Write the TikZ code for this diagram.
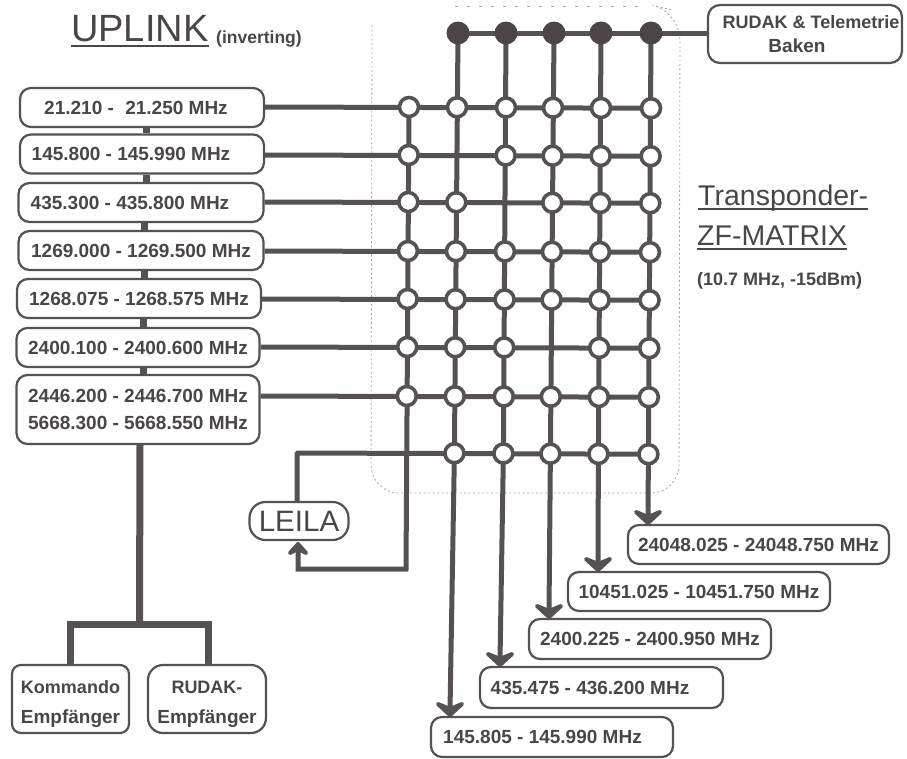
\documentclass[tikz,border=0pt]{standalone}
\usepackage{fontspec}
\setmainfont{Liberation Sans}
\usetikzlibrary{calc}
\definecolor{ink}{HTML}{565152}
\definecolor{txt}{HTML}{4A4647}
\definecolor{dot}{HTML}{4C4547}
\newcommand{\shl}[2]{#2\hspace*{#1pt}}
\newcommand{\shr}[2]{\hspace*{#1pt}#2}
\tikzset{
  x=1pt,y=-1pt,
  every node/.style={text=txt,inner sep=0pt},
  bus/.style={draw=ink,line width=5pt},
  feed/.style={draw=ink,line width=7pt},
  freqbox/.style={draw=ink,line width=2.2pt,rounded corners=11pt,fill=white,font=\bfseries\fontsize{19}{24}\selectfont,align=center},
  xnode/.style={circle,draw=ink,line width=3.6pt,fill=white,minimum size=19pt},
  tapnode/.style={circle,draw=none,fill=dot,minimum size=23pt},
  headshape/.style={draw=ink,fill=ink,line width=4pt,line join=round},
  titletext/.style={font=\fontsize{38}{38}\selectfont,anchor=base west},
  subtitle/.style={font=\fontsize{28.5}{30}\selectfont,anchor=base west},
  smallbold/.style={font=\bfseries\fontsize{18}{20}\selectfont,anchor=base west},
  rule line/.style={draw=txt,line width=2pt},
  frame line/.style={draw=gray!70,line width=.8pt,dash pattern=on 2pt off 2.5pt},
}
\newcommand{\headdown}[3]{% tip coordinate, half width, height
  \draw[headshape] ($(#1)+(0,-2)$) -- ($(#1)+(-#2,-2-#3)$) -- ($(#1)+(0,-2-0.55*#3)$) -- ($(#1)+(#2,-2-#3)$) -- cycle;}
\newcommand{\headup}[3]{%
  \draw[headshape] ($(#1)+(0,2)$) -- ($(#1)+(-#2,2+#3)$) -- ($(#1)+(0,2+0.55*#3)$) -- ($(#1)+(#2,2+#3)$) -- cycle;}
\begin{document}
\begin{tikzpicture}
\useasboundingbox (0,0) rectangle (907,758);
% frame of the matrix
\draw[frame line,rounded corners=28pt] (372,25) -- (371,493) -- (679,493) -- (680,12) -- (672,10);
\draw[frame line,dash pattern=on 3pt off 9pt] (455,6) -- (645,6);
% grid coordinates
\foreach \c/\xx in {1/409,2/457,3/506,4/553,5/601,6/651}{
  \foreach \r/\yy in {1/107,2/155,3/202,4/251,5/299,6/347,7/396,8/453}{
    \pgfmathsetmacro{\px}{\xx-(\yy-107)*0.0075}
    \pgfmathsetmacro{\py}{\yy+(\xx-409)*0.005}
    \coordinate (p\c\r) at (\px,\py);
  }
}
\coordinate (t2) at (458,33);
\coordinate (t3) at (506,33);
\coordinate (t4) at (554,33);
\coordinate (t5) at (601,33);
\coordinate (t6) at (651,33);
% boxes
\node[freqbox,minimum width=244pt,minimum height=39pt] (b1) at (142,107.5) {\shl{12}{21.210 -\hspace{.6em}21.250 MHz}};
\node[freqbox,minimum width=244pt,minimum height=39pt] (b2) at (142,154) {\shl{22}{145.800 - 145.990 MHz}};
\node[freqbox,minimum width=245pt,minimum height=39pt] (b3) at (141,202.5) {\shl{22}{435.300 - 435.800 MHz}};
\node[freqbox,minimum width=245pt,minimum height=39pt] (b4) at (141,250.5) {\shl{0}{1269.000 - 1269.500 MHz}};
\node[freqbox,minimum width=244pt,minimum height=39pt] (b5) at (139,298.5) {\shl{0}{1268.075 - 1268.575 MHz}};
\node[freqbox,minimum width=243pt,minimum height=39pt] (b6) at (138,347.5) {\shl{0}{2400.100 - 2400.600 MHz}};
\node[freqbox,minimum width=243pt,minimum height=69pt] (b7) at (138,409.5) {2446.200 - 2446.700 MHz\\[3pt]5668.300 - 5668.550 MHz};
\node[freqbox,rounded corners=9pt,minimum width=117pt,minimum height=68pt] (kom) at (70.5,699) {\fontsize{18}{22}\selectfont \rule{0pt}{24pt}Kommando\\[6pt]Empfänger};
\node[freqbox,rounded corners=15pt,minimum width=118pt,minimum height=68pt] (rud) at (207,699) {\fontsize{18}{22}\selectfont \rule{0pt}{24pt}RUDAK-\\[6pt]Empfänger};
\node[freqbox,draw=ink,rounded corners=16pt,minimum width=99pt,minimum height=38pt,font=\fontsize{29.5}{30}\selectfont] (leila) at (299,521) {LEILA};
\node[freqbox,rounded corners=12pt,minimum width=194pt,minimum height=58pt] (rtb) at (805,34) {\fontsize{18}{19.5}\selectfont \shr{12}{RUDAK \& Telemetrie}\\\shl{16}{Baken}};
\node[freqbox,minimum width=261pt,minimum height=39pt] (o6) at (758.5,544.5) {24048.025 - 24048.750 MHz};
\node[freqbox,minimum width=262pt,minimum height=39pt] (o5) at (699,591.5) {\shl{0}{10451.025 - 10451.750 MHz}};
\node[freqbox,minimum width=242pt,minimum height=40pt] (o4) at (650,639) {\shl{0}{2400.225 - 2400.950 MHz}};
\node[freqbox,minimum width=243pt,minimum height=41pt] (o3) at (601.5,687.5) {\shl{23}{435.475 - 436.200 MHz}};
\node[freqbox,minimum width=242pt,minimum height=40pt] (o2) at (552,737) {\shl{19}{145.805 - 145.990 MHz}};
% links between the input boxes
\foreach \a/\b/\s in {b1/b2/4,b2/b3/4,b3/b4/3,b4/b5/3,b5/b6/4,b6/b7/5}{
  \draw[feed] ([xshift=\s pt]\a.south) -- ([xshift=\s pt]\a.south |- \b.north);
}
% rows
\foreach \r/\b in {1/b1,2/b2,3/b3,4/b4,5/b5,6/b6,7/b7}{
  \draw[bus] (\b.east |- p1\r) -- (p6\r);
}
\coordinate (lc) at (297,453);
\draw[bus,rounded corners=1pt] (leila.north -| lc) -- (lc) -- (p68);
% columns
\coordinate (lb) at (406,569);
\coordinate (la) at (298,569);
\coordinate (lt) at (298,542);
\draw[bus] (p11) -- (lb) -- (la) -- ($(lt)+(0,5)$);
\headup{lt}{8}{9}
\foreach \c in {2,...,6}{\draw[bus] (t\c) -- (p\c8);}
\coordinate (e2) at (450,717);
\coordinate (e3) at (500,667);
\coordinate (e4) at (549,619);
\coordinate (e5) at (598,572);
\coordinate (e6) at (648,525);
\foreach \c in {2,...,6}{
  \draw[bus] (p\c8) -- ($(e\c)+(0,-6)$);
  \headdown{e\c}{12}{11}
}
% top bus
\draw[bus] (t2) -- (rtb.west |- t2);
% receivers
\coordinate (jn) at (139.5,624);
\coordinate (jl) at (70,624);
\coordinate (jr) at (208,624);
\draw[feed] ([xshift=2pt]b7.south) -- (jn);
\draw[feed] (kom.north -| jl) -- (jl) -- (jr) -- (rud.north -| jr);
% crossing nodes
\foreach \n in {11,21,31,41,51,61,
                12,32,42,52,62,
                13,23,43,53,63,
                14,24,34,44,54,64,
                15,25,35,45,55,65,
                16,26,36,56,66,
                17,27,37,47,57,67,
                28,38,48,58,68}{
  \node[xnode] (n\n) at (p\n) {};
}
\foreach \c in {2,...,6}{\node[tapnode] (nt\c) at (t\c) {};}
% titles
\node[titletext] (up) at (71,41) {UPLINK};
\draw[rule line] ([yshift=-5pt]up.base west) -- ([yshift=-5pt]up.base east);
\node[smallbold,font=\bfseries\fontsize{17.5}{20}\selectfont] (inv) at (216,43) {(inverting)};
\node[subtitle] (tr) at (698,205) {Transponder-};
\draw[rule line] ([yshift=-4pt]tr.base west) -- ([yshift=-4pt]tr.base east);
\node[subtitle] (zf) at (697,245) {ZF-MATRIX};
\draw[rule line] ([yshift=-4pt]zf.base west) -- ([yshift=-4pt]zf.base east);
\node[smallbold] (par) at (697,285) {(10.7 MHz, -15dBm)};
\end{tikzpicture}
\end{document}
